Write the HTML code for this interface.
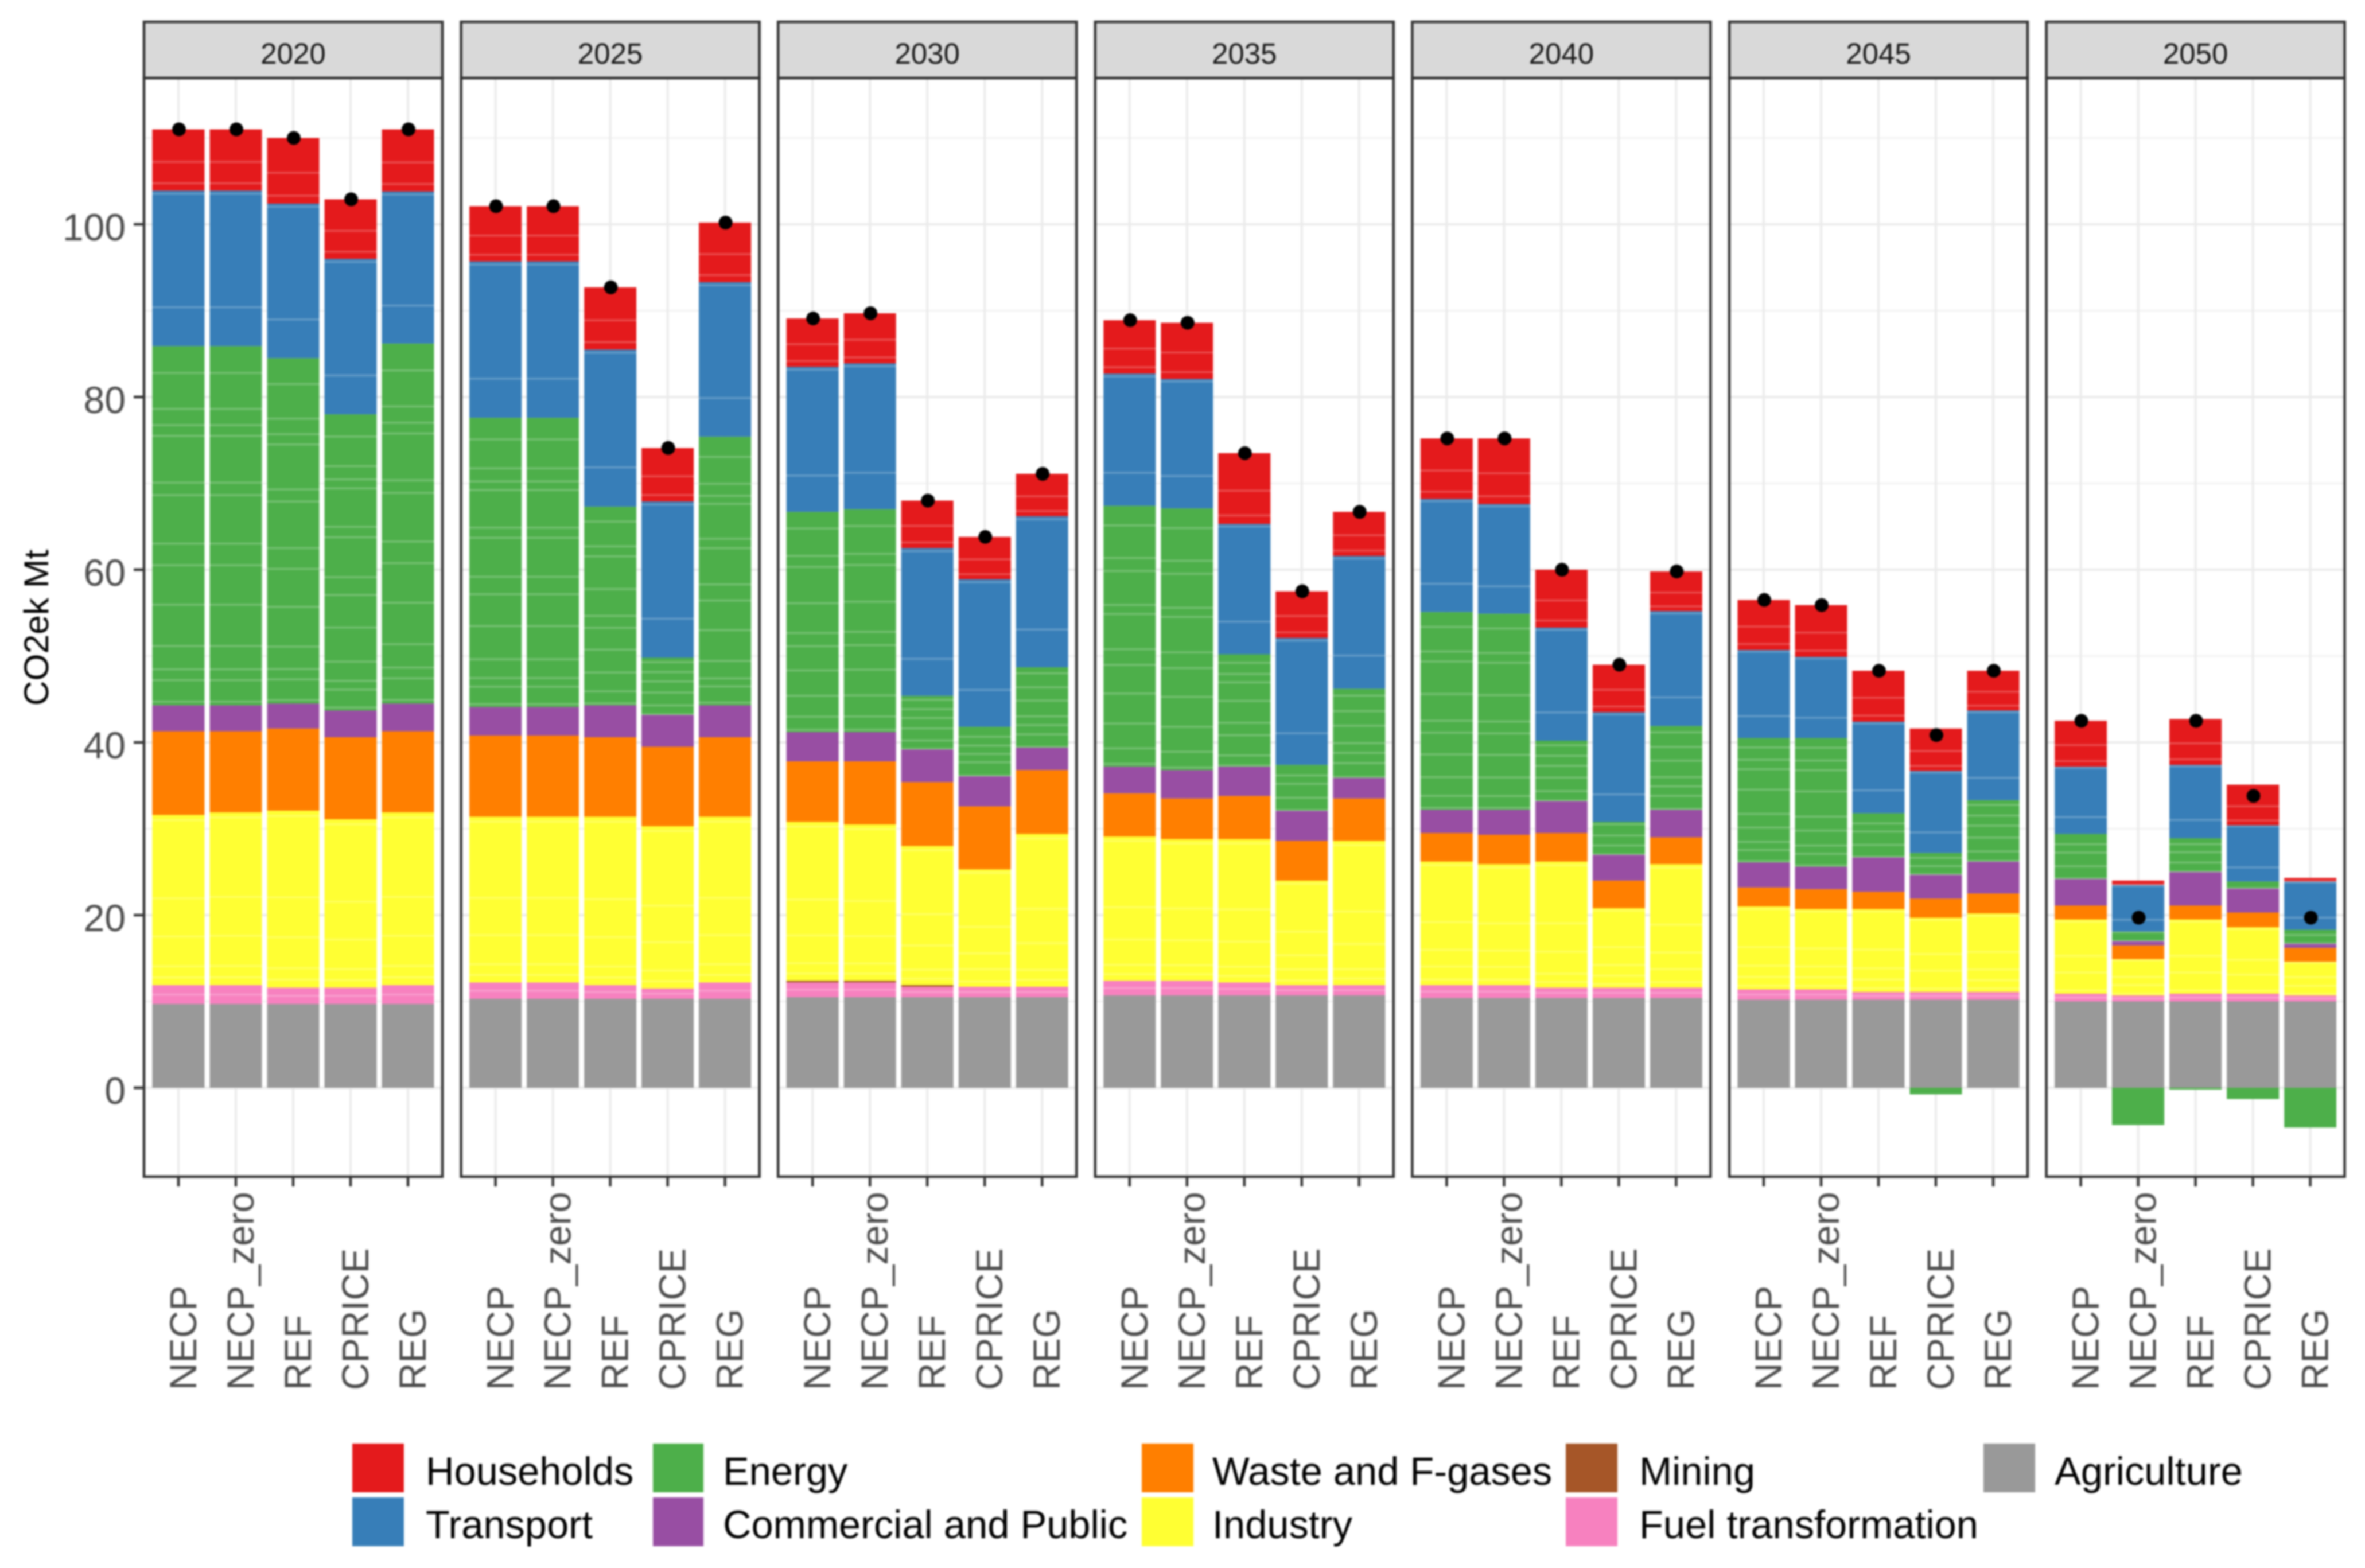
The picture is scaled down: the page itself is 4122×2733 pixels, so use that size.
<!DOCTYPE html>
<html lang="en">
<head>
<meta charset="utf-8">
<title>CO2ek Mt by sector and scenario</title>
<style>
  html, body { margin: 0; padding: 0; background: #ffffff; }
  #chart { display: block; filter: blur(1.6px); font-family: "Liberation Sans", sans-serif; }
</style>
</head>
<body>
<svg id="chart" xmlns="http://www.w3.org/2000/svg" width="4122" height="2733" viewBox="0 0 4122 2733">
  <rect x="0" y="0" width="4122" height="2733" fill="#ffffff"/>
  <g id="panels"></g>
  <g id="y-axis"></g>
  <text transform="translate(84,1094) rotate(-90)" text-anchor="middle" font-size="60.5" fill="#000000">CO2ek Mt</text>
  <g font-size="68.6" fill="#000000">
    <g><rect x="614" y="2516" width="90" height="85" fill="#E41A1C"/><text x="742" y="2588">Households</text></g>
    <g><rect x="614" y="2610" width="90" height="85" fill="#377EB8"/><text x="742" y="2681">Transport</text></g>
    <g><rect x="1138" y="2516" width="88" height="85" fill="#4DAF4A"/><text x="1260" y="2588">Energy</text></g>
    <g><rect x="1138" y="2610" width="88" height="85" fill="#984EA3"/><text x="1260" y="2681">Commercial and Public</text></g>
    <g><rect x="1990" y="2516" width="90" height="85" fill="#FF7F00"/><text x="2113" y="2588">Waste and F-gases</text></g>
    <g><rect x="1990" y="2610" width="90" height="85" fill="#FFFF33"/><text x="2113" y="2681">Industry</text></g>
    <g><rect x="2729" y="2516" width="90" height="85" fill="#A65628"/><text x="2857" y="2588">Mining</text></g>
    <g><rect x="2729" y="2610" width="90" height="85" fill="#F781BF"/><text x="2857" y="2681">Fuel transformation</text></g>
    <g><rect x="3457" y="2516" width="90" height="85" fill="#999999"/><text x="3581" y="2588">Agriculture</text></g>
  </g>
</svg>
<script>
// ---- chart data (Mt CO2eq), rows = years, columns = scenarios ----
const years = ['2020', '2025', '2030', '2035', '2040', '2045', '2050'];
const scenarios = ['NECP', 'NECP_zero', 'REF', 'CPRICE', 'REG'];
const yTickLabels = [0, 20, 40, 60, 80, 100];
const yMinorGrid = [10, 30, 50, 70, 90, 110];

const agriculture = [
  [9.7, 9.7, 9.7, 9.7, 9.7],
  [10.3, 10.3, 10.3, 10.3, 10.3],
  [10.5, 10.5, 10.5, 10.5, 10.5],
  [10.7, 10.7, 10.7, 10.7, 10.7],
  [10.4, 10.4, 10.4, 10.4, 10.4],
  [10.2, 10.2, 10.2, 10.2, 10.2],
  [10.0, 10.0, 10.0, 10.0, 10.0]
];
const fuelTransformation = [
  [2.2, 2.2, 1.9, 1.9, 2.2],
  [1.9, 1.9, 1.6, 1.2, 1.9],
  [1.7, 1.7, 1.2, 1.2, 1.2],
  [1.7, 1.7, 1.5, 1.2, 1.2],
  [1.5, 1.5, 1.2, 1.2, 1.2],
  [1.2, 1.2, 0.9, 0.9, 0.9],
  [0.9, 0.7, 0.9, 0.9, 0.7]
];
const mining = [
  [0, 0, 0, 0, 0],
  [0, 0, 0, 0, 0],
  [0.2, 0.2, 0.2, 0, 0],
  [0, 0, 0, 0, 0],
  [0, 0, 0, 0, 0],
  [0, 0, 0, 0, 0],
  [0, 0, 0, 0, 0]
];
const industry = [
  [19.7, 20.0, 20.5, 19.5, 20.0],
  [19.2, 19.2, 19.5, 18.8, 19.2],
  [18.4, 18.1, 16.1, 13.6, 17.7],
  [16.7, 16.4, 16.6, 12.1, 16.7],
  [14.3, 14.0, 14.6, 9.2, 14.3],
  [9.6, 9.3, 9.6, 8.6, 9.1],
  [8.6, 4.2, 8.6, 7.7, 3.9]
];
const waste = [
  [9.7, 9.4, 9.5, 9.5, 9.4],
  [9.4, 9.4, 9.2, 9.2, 9.2],
  [7.0, 7.3, 7.4, 7.3, 7.4],
  [5.0, 4.7, 5.0, 4.6, 4.9],
  [3.3, 3.4, 3.3, 3.2, 3.1],
  [2.2, 2.3, 2.0, 2.2, 2.3],
  [1.6, 1.6, 1.6, 1.7, 1.6]
];
const commercial = [
  [3.0, 3.0, 2.9, 3.1, 3.2],
  [3.3, 3.3, 3.7, 3.7, 3.7],
  [3.4, 3.4, 3.8, 3.5, 2.6],
  [3.1, 3.3, 3.4, 3.5, 2.4],
  [2.7, 2.9, 3.7, 3.0, 3.2],
  [2.9, 2.6, 4.0, 2.8, 3.7],
  [3.1, 0.5, 3.9, 2.8, 0.5]
];
const energy = [
  [41.6, 41.6, 40.0, 34.3, 41.7],
  [33.5, 33.5, 23.0, 6.6, 31.1],
  [25.5, 25.8, 6.2, 5.7, 9.3],
  [30.2, 30.3, 13.0, 5.3, 10.3],
  [22.9, 22.7, 7.0, 3.8, 9.7],
  [14.4, 14.9, 5.1, 2.5, 7.1],
  [5.2, 1.1, 3.9, 0.8, 1.6]
];
const transport = [
  [18.0, 18.0, 17.9, 18.0, 17.6],
  [18.1, 18.1, 18.2, 18.1, 17.9],
  [16.8, 16.9, 17.1, 17.1, 17.5],
  [15.3, 15.0, 15.1, 14.7, 15.4],
  [13.1, 12.7, 13.1, 12.7, 13.3],
  [10.2, 9.4, 10.6, 9.5, 10.4],
  [7.8, 5.4, 8.5, 6.5, 5.6]
];
const households = [
  [7.1, 7.1, 7.6, 6.9, 7.2],
  [6.4, 6.4, 7.2, 6.2, 6.9],
  [5.6, 5.8, 5.5, 4.9, 4.9],
  [6.2, 6.5, 8.2, 5.4, 5.1],
  [7.0, 7.6, 6.7, 5.5, 4.6],
  [5.8, 6.0, 5.9, 4.9, 4.6],
  [5.3, 0.5, 5.3, 4.7, 0.4]
];
const energyRemovals = [
  [0, 0, 0, 0, 0],
  [0, 0, 0, 0, 0],
  [0, 0, 0, 0, 0],
  [0, 0, 0, 0, 0],
  [0, 0, 0, 0, 0],
  [0, 0, 0, -0.75, 0],
  [0, -4.3, -0.2, -1.3, -4.6]
];
// shares (of each sector's height) where its many sub-sources meet
const energySeams = [0.01, 0.07, 0.1, 0.165, 0.28, 0.29, 0.39, 0.45, 0.585, 0.62, 0.75, 0.77, 0.78, 0.8, 0.825, 0.925, 0.94];
const industrySeams = [0.045, 0.11, 0.15, 0.285, 0.51, 0.545, 0.97];
const transportSeams = [0.25, 0.98];
const householdSeams = [0.12, 0.47];
const fuelSeams = [0.5];

// ---- sector definitions, bottom of stack first ----
const sectors = [
  { name: 'agriculture', values: agriculture, color: '#999999', seams: [] },
  { name: 'fuel-transformation', values: fuelTransformation, color: '#F781BF', seams: fuelSeams },
  { name: 'mining', values: mining, color: '#A65628', seams: [] },
  { name: 'industry', values: industry, color: '#FFFF33', seams: industrySeams },
  { name: 'waste', values: waste, color: '#FF7F00', seams: [] },
  { name: 'commercial', values: commercial, color: '#984EA3', seams: [] },
  { name: 'energy', values: energy, color: '#4DAF4A', seams: energySeams },
  { name: 'transport', values: transport, color: '#377EB8', seams: transportSeams },
  { name: 'households', values: households, color: '#E41A1C', seams: householdSeams }
];

// ---- axis functions ----
const PANEL_LEFT = 251, PANEL_STEP = 552.6, PANEL_W = 520;
const PANEL_TOP = 136, PANEL_BOTTOM = 2051, STRIP_TOP = 38;
const BAR_W = 91, BAR_STEP = 100, BAR_OFFSET = 60;
function panelX(p) { return PANEL_LEFT + PANEL_STEP * p; }
function xScale(p, s) { return panelX(p) + BAR_OFFSET + BAR_STEP * s; }
function yScale(v) { return 1896 - 15.05 * v; }

const SVG_NS = 'http://www.w3.org/2000/svg';
function make(tag, attrs, parent) {
  const node = document.createElementNS(SVG_NS, tag);
  for (const key in attrs) node.setAttribute(key, attrs[key]);
  parent.appendChild(node);
  return node;
}

const panelsRoot = document.getElementById('panels');
const yAxisRoot = document.getElementById('y-axis');

years.forEach(function (year, p) {
  const left = panelX(p);
  const group = make('g', {}, panelsRoot);
  
  

  const bg = make('rect', { x: left, y: PANEL_TOP, width: PANEL_W, height: PANEL_BOTTOM - PANEL_TOP, fill: '#ffffff' }, group);
  
  

  yMinorGrid.forEach(function (v) {
    const line = make('line', { x1: left, x2: left + PANEL_W, y1: yScale(v), y2: yScale(v), stroke: '#F0F0F0', 'stroke-width': 2.5 }, group);
    
    
  });
  yTickLabels.forEach(function (v) {
    const line = make('line', { x1: left, x2: left + PANEL_W, y1: yScale(v), y2: yScale(v), stroke: '#EBEBEB', 'stroke-width': 4 }, group);
    
    
  });
  scenarios.forEach(function (sc, s) {
    const line = make('line', { x1: xScale(p, s), x2: xScale(p, s), y1: PANEL_TOP, y2: PANEL_BOTTOM, stroke: '#EBEBEB', 'stroke-width': 4 }, group);
    
    
  });

  // stacked bars
  scenarios.forEach(function (sc, s) {
    const cx = xScale(p, s);
    let base = 0;
    sectors.forEach(function (sector) {
      const value = sector.values[p][s];
      if (value <= 0) return;
      const yTop = yScale(base + value);
      const height = yScale(base) - yTop;
      const bar = make('rect', { x: cx - BAR_W / 2, y: yTop, width: BAR_W, height: height, fill: sector.color }, group);
      
      

      let lastY = Infinity;
      sector.seams.forEach(function (share) {
        const seamY = yScale(base + value * share);
        if (lastY - seamY < 14) return;
        lastY = seamY;
        const seam = make('line', { x1: cx - BAR_W / 2, x2: cx + BAR_W / 2, y1: seamY, y2: seamY, stroke: '#ffffff', 'stroke-opacity': 0.22, 'stroke-width': 3.5 }, group);
        
        
      });
      base += value;
    });

    const removal = energyRemovals[p][s];
    if (removal < 0) {
      const neg = make('rect', { x: cx - BAR_W / 2, y: yScale(0), width: BAR_W, height: yScale(removal) - yScale(0), fill: '#4DAF4A' }, group);
      
      
    }
  });

  // net total points
  scenarios.forEach(function (sc, s) {
    let net = energyRemovals[p][s];
    sectors.forEach(function (sector) { net += sector.values[p][s]; });
    const dot = make('circle', { cx: xScale(p, s) + 1, cy: yScale(net), r: 12, fill: '#000000' }, group);
    
    
  });

  // panel border
  const border = make('rect', { x: left, y: PANEL_TOP, width: PANEL_W, height: PANEL_BOTTOM - PANEL_TOP, fill: 'none', stroke: '#333333', 'stroke-width': 4.5 }, group);
  
  

  // strip
  const strip = make('rect', { x: left, y: STRIP_TOP, width: PANEL_W, height: PANEL_TOP - STRIP_TOP, fill: '#D9D9D9', stroke: '#333333', 'stroke-width': 4.5 }, group);
  
  
  const stripLabel = make('text', { x: left + PANEL_W / 2, y: 111, 'text-anchor': 'middle', 'font-size': 51, fill: '#1A1A1A' }, group);
  
  
  stripLabel.textContent = year;

  // x ticks and labels
  scenarios.forEach(function (sc, s) {
    const tx = xScale(p, s);
    const tick = make('line', { x1: tx, x2: tx, y1: PANEL_BOTTOM, y2: 2068, stroke: '#333333', 'stroke-width': 4.5 }, group);
    
    
    const label = make('text', { transform: 'translate(' + (tx + 31) + ',2423) rotate(-90)', 'text-anchor': 'start', 'font-size': 65.5, fill: '#4D4D4D' }, group);
    
    
    label.textContent = sc;
  });
});

// y axis ticks and labels
yTickLabels.forEach(function (v) {
  const tick = make('line', { x1: 233, x2: PANEL_LEFT, y1: yScale(v), y2: yScale(v), stroke: '#333333', 'stroke-width': 4.5 }, yAxisRoot);
  
  
  const label = make('text', { x: 219, y: yScale(v) + 28, 'text-anchor': 'end', 'font-size': 66, fill: '#4D4D4D' }, yAxisRoot);
  
  
  label.textContent = String(v);
});
</script>
</body>
</html>
